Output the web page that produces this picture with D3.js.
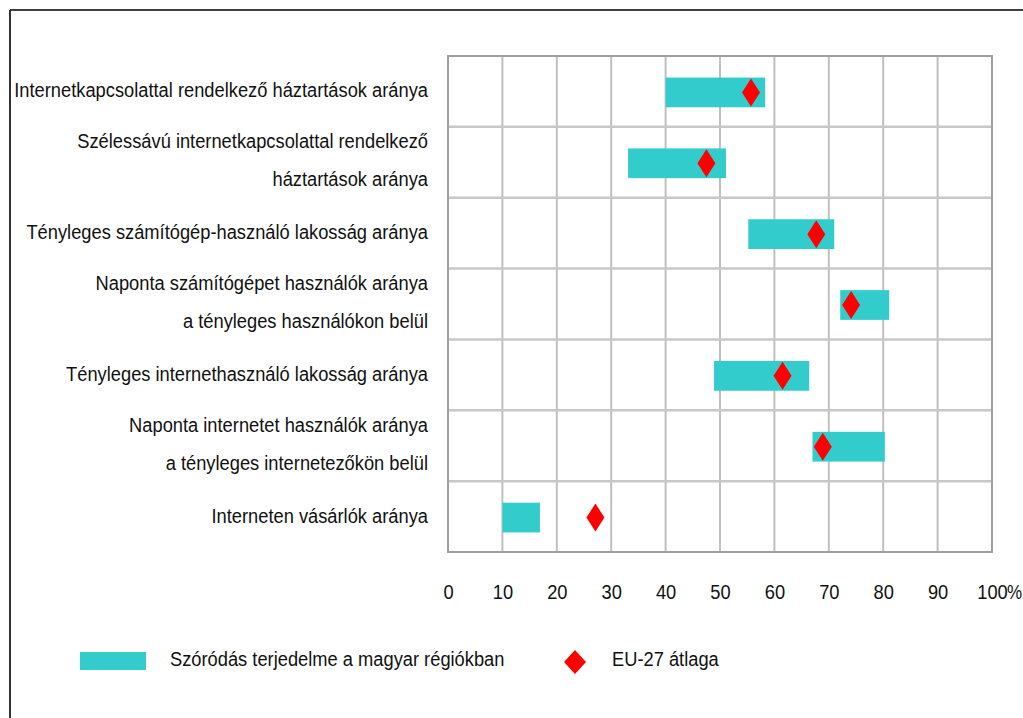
<!DOCTYPE html>
<html>
<head>
<meta charset="utf-8">
<script src="https://cdn.jsdelivr.net/npm/d3@7"></script>
<style>
  html, body { margin: 0; padding: 0; background: #fff; }
  svg { display: block; }
  text { font-family: "Liberation Sans", Arial, sans-serif; fill: #111; }
</style>
</head>
<body>
<svg id="chart" width="1023" height="718"></svg>
<script>
// ---- Data ----
const categories = [
  ["Internetkapcsolattal rendelkező háztartások aránya"],
  ["Szélessávú internetkapcsolattal rendelkező", "háztartások aránya"],
  ["Tényleges számítógép-használó lakosság aránya"],
  ["Naponta számítógépet használók aránya", "a tényleges használókon belül"],
  ["Tényleges internethasználó lakosság aránya"],
  ["Naponta internetet használók aránya", "a tényleges internetezőkön belül"],
  ["Interneten vásárlók aránya"]
];
const regionMin = [40.0, 33.1, 55.2, 72.1, 48.9, 67.0, 10.0];
const regionMax = [58.3, 51.1, 71.0, 81.1, 66.4, 80.3, 16.9];
const euAverage = [55.7, 47.5, 67.7, 74.1, 61.5, 68.9, 27.1];
const xTicks = [0, 10, 20, 30, 40, 50, 60, 70, 80, 90, 100];
const legendLabels = ["Szóródás terjedelme a magyar régiókban", "EU-27 átlaga"];
const unitLabel = "%";

// ---- Layout ----
const svg = d3.select("#chart");
const plot = { left: 448, right: 992, top: 56, bottom: 552 };
const FS = 20, SX = 0.915;
const teal = "#33CCCC", red = "#FF0000";

const x = d3.scaleLinear().domain([0, 100]).range([plot.left, plot.right]);
const y = d3.scaleBand().domain(d3.range(categories.length)).range([plot.top, plot.bottom]).padding(0);
const bw = y.bandwidth();

// outer frame (partial, as in source)
svg.append("line").attr("x1", 10).attr("y1", 10).attr("x2", 1023).attr("y2", 10)
  .attr("stroke", "#000").attr("stroke-width", 1.5);
svg.append("line").attr("x1", 10).attr("y1", 10).attr("x2", 10).attr("y2", 718)
  .attr("stroke", "#333").attr("stroke-width", 2);

// vertical gridlines
svg.append("g").selectAll("line").data(xTicks.slice(1, -1)).join("line")
  .attr("x1", d => x(d)).attr("x2", d => x(d))
  .attr("y1", plot.top).attr("y2", plot.bottom)
  .attr("stroke", "#c0c0c0").attr("stroke-width", 2);

// horizontal separators
svg.append("g").selectAll("line").data(d3.range(1, categories.length)).join("line")
  .attr("x1", plot.left).attr("x2", plot.right)
  .attr("y1", d => y(d)).attr("y2", d => y(d))
  .attr("stroke", "#c8c8c8").attr("stroke-width", 2.5);

// plot border
svg.append("rect").attr("x", plot.left).attr("y", plot.top)
  .attr("width", plot.right - plot.left).attr("height", plot.bottom - plot.top)
  .attr("fill", "none").attr("stroke", "#a0a0a0").attr("stroke-width", 2);

// range bars
const barH = bw * 0.42;
svg.append("g").selectAll("rect").data(d3.range(categories.length)).join("rect")
  .attr("x", i => x(regionMin[i]))
  .attr("width", i => x(regionMax[i]) - x(regionMin[i]))
  .attr("y", i => y(i) + bw / 2 - barH / 2 + 1)
  .attr("height", barH)
  .attr("fill", teal);

// diamonds
const dw = 9, dh = 14;
const diamond = (cx, cy, w, h) => `M${cx},${cy - h}L${cx + w},${cy}L${cx},${cy + h}L${cx - w},${cy}Z`;
svg.append("g").selectAll("path").data(d3.range(categories.length)).join("path")
  .attr("d", i => diamond(x(euAverage[i]), y(i) + bw / 2 + 1, dw, dh))
  .attr("fill", red);

// category labels
const lab = svg.append("g").selectAll("g").data(categories).join("g")
  .attr("transform", (d, i) => `translate(428,${y(i) + bw / 2})`);
lab.each(function (lines) {
  const g = d3.select(this);
  const offs = lines.length === 1 ? [-1] : [-21, 17];
  lines.forEach((t, k) => {
    g.append("text")
      .attr("transform", `translate(0,${offs[k]}) scale(${SX},1)`)
      .attr("text-anchor", "end").attr("dy", "0.35em")
      .attr("font-size", FS).text(t);
  });
});

// x axis
const axis = svg.append("g").attr("transform", `translate(0,${plot.bottom})`)
  .call(d3.axisBottom(x).tickValues(xTicks).tickSize(0).tickPadding(0).tickFormat(d3.format("d")));
axis.select(".domain").remove();
axis.selectAll("text")
  .attr("y", 40).attr("dy", "0.35em")
  .attr("font-size", FS).attr("font-family", "Liberation Sans, Arial, sans-serif")
  .attr("fill", "#111")
  .attr("transform", `scale(${SX},1)`);
svg.append("text").attr("transform", `translate(${x(100) + 15},${plot.bottom + 40}) scale(0.85,1)`)
  .attr("dy", "0.35em").attr("font-size", FS).text(unitLabel);

// legend
const lg = svg.append("g");
lg.append("rect").attr("x", 80).attr("y", 652).attr("width", 66).attr("height", 18).attr("fill", teal);
lg.append("text").attr("transform", `translate(170,659) scale(${SX},1)`).attr("dy", "0.35em")
  .attr("font-size", FS).text(legendLabels[0]);
lg.append("path").attr("d", diamond(575, 662, 11, 12)).attr("fill", red);
lg.append("text").attr("transform", `translate(612,659) scale(${SX},1)`).attr("dy", "0.35em")
  .attr("font-size", FS).text(legendLabels[1]);
</script>
</body>
</html>
